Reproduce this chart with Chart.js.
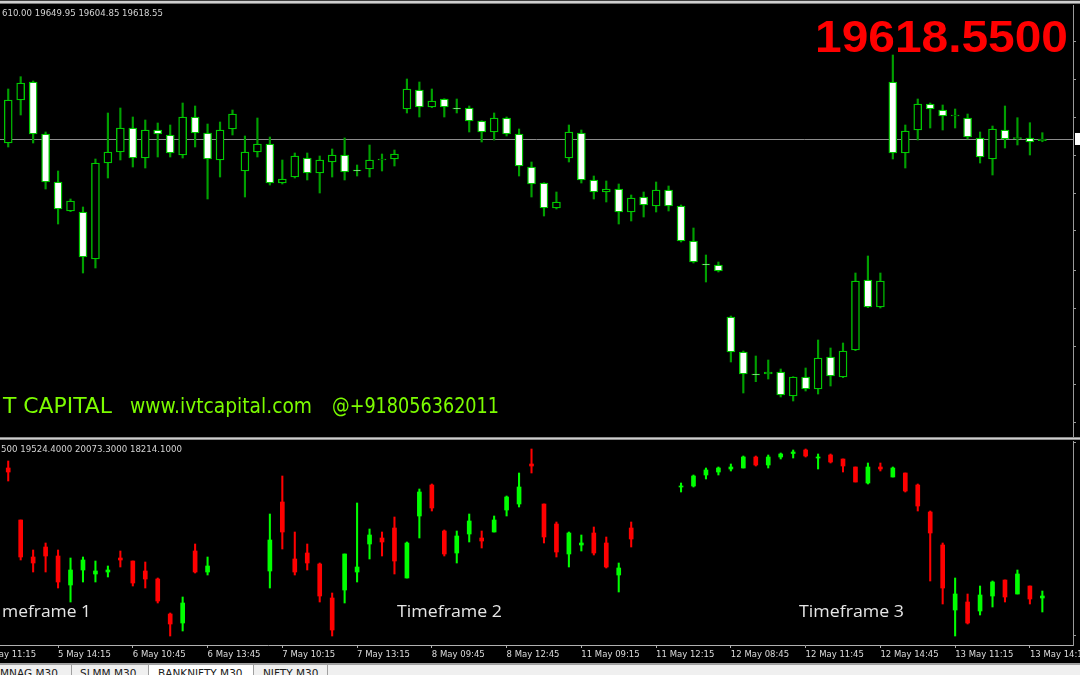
<!DOCTYPE html>
<html>
<head>
<meta charset="utf-8">
<title>BANKNIFTY,M30</title>
<script src="https://cdn.jsdelivr.net/npm/chart.js"></script>
<style>
  html, body { margin: 0; padding: 0; background: #000; width: 1080px; height: 675px; overflow: hidden; position: relative; }
  canvas { position: absolute; left: 0; }
  #top { top: 0; }
  #bottom { top: 440px; }
  .ln { position: absolute; }
  #tabs { position: absolute; left: 0; top: 665px; width: 1080px; height: 10px; background: #f0f0f0; overflow: hidden; }
  #tabs span { position: absolute; top: 2px; font: 10.5px "DejaVu Sans", sans-serif; line-height: 12px; color: #202020; white-space: nowrap; }
  #tabs i { position: absolute; top: 0; width: 1px; height: 10px; background: #a0a0a0; }
</style>
</head>
<body>
<canvas id="top" width="1080" height="437"></canvas>
<canvas id="bottom" width="1080" height="223"></canvas>

<!-- terminal frame lines -->
<div class="ln" style="left:0;top:0;width:1080px;height:1px;background:#404040"></div>
<div class="ln" style="left:0;top:1px;width:1080px;height:2px;background:#cfcfcf"></div>
<div class="ln" style="left:0;top:3px;width:1080px;height:1px;background:#7a7a7a"></div>
<div class="ln" style="left:0;top:437px;width:1080px;height:1px;background:#8c8c8c"></div>
<div class="ln" style="left:0;top:438px;width:1080px;height:1px;background:#cfcfcf"></div>
<div class="ln" style="left:0;top:439px;width:1080px;height:1px;background:#8c8c8c"></div>
<div class="ln" style="left:0;top:663px;width:1080px;height:2px;background:#a0a0a0"></div>

<div id="tabs">
  <span style="left:0">MNAG,M30</span>
  <i style="left:71px"></i>
  <span style="left:80px">SLMM,M30</span>
  <i style="left:148px"></i>
  <div style="position:absolute;left:149px;top:0;width:104px;height:10px;background:#fff"></div>
  <span style="left:158px">BANKNIFTY,M30</span>
  <i style="left:253px"></i>
  <span style="left:263px">NIFTY,M30</span>
  <i style="left:327px"></i>
</div>

<script>

// upper pane: BANKNIFTY M30 candles (bar 0 = 5 May 12:15 ... bar 83 = 13 May 14:45)
const upOpen = [19598.5, 19813.5, 19903.5, 19643.5, 19403.5, 19258.5, 19253.5, 19018.5, 19498.5, 19553.5,
    19673.5, 19523.5, 19663.5, 19638.5, 19538.5, 19728.5, 19648.5, 19513.5, 19668.5, 19458.5,
    19553.5, 19593.5, 19398.5, 19428.5, 19523.5, 19448.5, 19503.5, 19538.5, 19463.5, 19468.5,
    19513.5, 19518.5, 19768.5, 19863.5, 19778.5, 19818.5, 19773.5, 19773.5, 19708.5, 19653.5,
    19723.5, 19643.5, 19478.5, 19398.5, 19273.5, 19523.5, 19648.5, 19413.5, 19353.5, 19368.5,
    19253.5, 19328.5, 19283.5, 19363.5, 19283.5, 19108.5, 18993.5, 18988.5, 18728.5, 18553.5,
    18443.5, 18443.5, 18453.5, 18333.5, 18428.5, 18368.5, 18528.5, 18428.5, 18563.5, 18913.5,
    18778.5, 19903.5, 19548.5, 19663.5, 19793.5, 19763.5, 19733.5, 19723.5, 19623.5, 19518.5,
    19663.5, 19620, 19623.5, 19610];
const upHigh = [19868.5, 19930, 19908.5, 19653.5, 19458.5, 19318.5, 19278.5, 19518.5, 19748.5, 19773.5,
    19728.5, 19713.5, 19698.5, 19688.5, 19798.5, 19783.5, 19693.5, 19703.5, 19763.5, 19633.5,
    19723.5, 19628.5, 19513.5, 19548.5, 19548.5, 19533.5, 19568.5, 19623.5, 19488.5, 19588.5,
    19543.5, 19563.5, 19918.5, 19903.5, 19868.5, 19820, 19818.5, 19783.5, 19710, 19748.5,
    19728.5, 19668.5, 19503.5, 19400, 19353.5, 19688.5, 19663.5, 19433.5, 19408.5, 19393.5,
    19338.5, 19353.5, 19403.5, 19383.5, 19288.5, 19173.5, 19038.5, 19003.5, 18733.5, 18558.5,
    18533.5, 18513.5, 18468.5, 18430, 18473.5, 18613.5, 18573.5, 18598.5, 18948.5, 19033.5,
    18948.5, 20038.5, 19688.5, 19818.5, 19798.5, 19788.5, 19768.5, 19743.5, 19653.5, 19683.5,
    19783.5, 19725, 19700, 19649.95];
const upLow = [19578.5, 19738.5, 19598.5, 19368.5, 19193.5, 19255, 18948.5, 18973.5, 19423.5, 19513.5,
    19478.5, 19473.5, 19528.5, 19528.5, 19523.5, 19578.5, 19318.5, 19428.5, 19638.5, 19328.5,
    19528.5, 19388.5, 19393.5, 19423.5, 19413.5, 19348.5, 19428.5, 19413.5, 19433.5, 19428.5,
    19458.5, 19483.5, 19748.5, 19728.5, 19775, 19728.5, 19748.5, 19653.5, 19603.5, 19613.5,
    19633.5, 19433.5, 19328.5, 19233.5, 19268.5, 19503.5, 19398.5, 19318.5, 19303.5, 19193.5,
    19208.5, 19228.5, 19253.5, 19258.5, 19103.5, 18998.5, 18903.5, 18953.5, 18503.5, 18348.5,
    18405, 18418.5, 18328.5, 18308.5, 18358.5, 18343.5, 18383.5, 18425, 18560, 18775,
    18773.5, 19518.5, 19473.5, 19613.5, 19673.5, 19663.5, 19673.5, 19618.5, 19498.5, 19438.5,
    19573.5, 19588.5, 19538.5, 19604.85];
const upClose = [19813.5, 19898.5, 19643.5, 19403.5, 19268.5, 19308.5, 19028.5, 19498.5, 19553.5, 19673.5,
    19523.5, 19663.5, 19643.5, 19548.5, 19728.5, 19648.5, 19518.5, 19663.5, 19743.5, 19553.5,
    19593.5, 19398.5, 19418.5, 19533.5, 19448.5, 19513.5, 19538.5, 19453.5, 19458.5, 19513.5,
    19518.5, 19543.5, 19868.5, 19778.5, 19808.5, 19778.5, 19768.5, 19708.5, 19653.5, 19723.5,
    19643.5, 19483.5, 19393.5, 19273.5, 19303.5, 19653.5, 19413.5, 19353.5, 19368.5, 19253.5,
    19323.5, 19288.5, 19363.5, 19283.5, 19108.5, 19003.5, 18988.5, 18958.5, 18553.5, 18443.5,
    18438.5, 18453.5, 18338.5, 18428.5, 18368.5, 18523.5, 18433.5, 18558.5, 18908.5, 18778.5,
    18908.5, 19548.5, 19658.5, 19793.5, 19768.5, 19733.5, 19738.5, 19628.5, 19528.5, 19668.5,
    19618.5, 19625, 19603.5, 19618.55];
const upTicks = [20105, 19917, 19728.5, 19538.5, 19348.5, 19160, 18963.5, 18770, 18580, 18393.5, 18203.5];

// lower pane: second timeframe candles on the same bar grid (null = no candle)
const loOpen = [19820, 19300, 18930, 19030, 18940, 18650, 18800, 18760, 18780, 18920,
    18890, 18790, 18710, 18360, 18270, 18990, 18780, null, null, null,
    null, 18790, 19480, 18910, 18970, 18860, 18520, 18600, 18780, 19060,
    19120, 19220, 18720, 19340, 19650, 19190, 18970, 19160, 19120, 19180,
    19400, 19460, 19860, 19460, 19260, 18960, 19050, 19170, 19070, 18750,
    19220, null, null, null, 19630, 19640, 19750, 19780, 19810, 19820,
    19930, 19850, 19930, 19965, 20000, 19920, 19950, 19910, 19830, 19670,
    19830, 19730, 19770, 19650, 19380, 19050, 18400, 18480, 18390, 18540,
    18700, 18560, 18640, 18520];
const loHigh = [19890, 19300, 19000, 19070, 19000, 18920, 18930, 18890, 18840, 18990,
    18890, 18880, 18720, 18370, 18530, 19060, 18930, null, null, null,
    null, 19360, 19740, 19180, 19060, 18870, 18570, 18960, 19470, 19210,
    19180, 19330, 19080, 19610, 19660, 19200, 19190, 19360, 19190, 19340,
    19540, 19770, 20010, 19460, 19280, 19180, 19150, 19230, 19130, 18870,
    19280, null, null, null, 19670, 19750, 19820, 19830, 19860, 19940,
    19940, 19950, 19970, 20000, 20010, 19960, 19960, 19910, 19830, 19870,
    19870, 19830, 19770, 19660, 19390, 19070, 18720, 18560, 18640, 18690,
    18700, 18800, 18640, 18590];
const loLow = [19690, 18900, 18780, 18780, 18620, 18480, 18680, 18680, 18730, 18830,
    18640, 18620, 18470, 18140, 18190, 18770, 18750, null, null, null,
    null, 18620, 19010, 18750, 18800, 18480, 18140, 18470, 18680, 18910,
    18940, 18760, 18720, 19120, 19390, 18940, 18870, 19080, 19020, 19180,
    19340, 19430, 19770, 19070, 18930, 18830, 18990, 18950, 18820, 18580,
    19030, null, null, null, 19580, 19630, 19710, 19750, 19790, 19820,
    19840, 19820, 19910, 19920, 19930, 19810, 19870, 19780, 19680, 19660,
    19790, 19730, 19580, 19390, 18690, 18460, 18140, 18260, 18350, 18430,
    18480, 18560, 18460, 18380];
const loClose = [19780, 18930, 18870, 18940, 18680, 18800, 18900, 18790, 18800, 18900,
    18670, 18710, 18490, 18260, 18470, 18780, 18840, null, null, null,
    null, 19100, 19180, 18780, 18870, 18540, 18200, 18960, 18830, 19150,
    19080, 18890, 19070, 19580, 19420, 18960, 19140, 19290, 19090, 19300,
    19530, 19630, 19840, 19130, 18980, 19170, 19070, 18970, 18830, 18820,
    19110, null, null, null, 19640, 19740, 19800, 19820, 19830, 19930,
    19850, 19930, 19960, 19980, 19940, 19930, 19880, 19840, 19680, 19830,
    19810, 19820, 19590, 19440, 19170, 18620, 18560, 18270, 18550, 18680,
    18530, 18760, 18510, 18540];
const loTicks = [20070, 18150];

// time axis (bar index of each label)
const timeTicks = [-2, 4, 10, 16, 22, 28, 34, 40, 46, 52, 58, 64, 70, 76, 82];
const timeLabels = ["5 May 11:15", "5 May 14:15", "6 May 10:45", "6 May 13:45", "7 May 10:15",
    "7 May 13:15", "8 May 09:45", "8 May 12:45", "11 May 09:15", "11 May 12:15",
    "12 May 08:45", "12 May 11:45", "12 May 14:45", "13 May 11:15", "13 May 14:15"];

const topHeader = "610.00 19649.95 19604.85 19618.55";
const bottomHeader = "500 19524.4000 20073.3000 18214.1000";
const watermark = ["T CAPITAL", "www.ivtcapital.com", "@+918056362011"];
const paneLabels = ["meframe 1", "Timeframe 2", "Timeframe 3"];

const lastPrice = upClose[upClose.length - 1];

function candleData(o, h, l, c) {
    const wicks = [];
    const bodies = [];
    o.forEach((v, i) => {
        if (v === null) return;
        wicks.push({ x: i, y: [l[i], h[i]] });
        bodies.push({ x: i, y: [v, c[i]] });
    });
    return { wicks, bodies };
}

// draw text stretched to a given width
function fitText(ctx, txt, x, y, w, font, color) {
    ctx.save();
    ctx.font = font;
    ctx.fillStyle = color;
    ctx.textBaseline = 'alphabetic';
    const m = ctx.measureText(txt).width;
    ctx.translate(x, y);
    ctx.scale(w / m, 1);
    ctx.fillText(txt, 0, 0);
    ctx.restore();
}

const xRange = { min: -0.66, max: 85.46 };

function yAxis(min, max, ticks) {
    return {
        position: 'right',
        min: min,
        max: max,
        afterFit: s => { s.width = 7; },
        afterBuildTicks: s => { s.ticks = ticks.map(v => ({ value: v })); },
        ticks: { display: false },
        grid: { drawOnChartArea: false, drawTicks: true, tickLength: 3, color: '#9a9a9a' },
        border: { display: true, color: '#9a9a9a' }
    };
}

const topOverlay = {
    id: 'topOverlay',
    beforeDatasetsDraw(chart) {
        const { ctx, chartArea } = chart;
        const y = Math.round(chart.scales.y.getPixelForValue(lastPrice)) + 0.5;
        ctx.save();
        ctx.strokeStyle = '#8c8c8c';
        ctx.lineWidth = 1;
        ctx.beginPath();
        ctx.moveTo(chartArea.left, y);
        ctx.lineTo(chartArea.right, y);
        ctx.stroke();
        ctx.restore();
    },
    afterDraw(chart) {
        const ctx = chart.ctx;
        const y = chart.scales.y.getPixelForValue(lastPrice);
        ctx.save();
        ctx.fillStyle = '#ffffff';
        ctx.fillRect(chart.chartArea.right + 2, y - 6, 8, 12);
        ctx.restore();

        fitText(ctx, topHeader, 2, 16, 161, '8.5px "DejaVu Sans"', '#d4d4d4');
        fitText(ctx, lastPrice.toFixed(4), 815, 52, 253, 'bold 44px "Liberation Sans"', '#ff0000');

        const wmFont = '21px "DejaVu Sans"';
        fitText(ctx, watermark[0], 3, 413, 109, wmFont, '#7cfc00');
        fitText(ctx, watermark[1], 130, 413, 182, wmFont, '#7cfc00');
        fitText(ctx, watermark[2], 332, 413, 167, wmFont, '#7cfc00');
    }
};

const bottomOverlay = {
    id: 'bottomOverlay',
    afterDraw(chart) {
        const ctx = chart.ctx;
        fitText(ctx, bottomHeader, 1, 12, 181, '8.5px "DejaVu Sans"', '#d4d4d4');
        const f = '17px "Open Sans"';
        fitText(ctx, paneLabels[0], 2, 177, 89, f, '#e6e6e6');
        fitText(ctx, paneLabels[1], 397, 177, 105, f, '#e6e6e6');
        fitText(ctx, paneLabels[2], 799, 177, 105, f, '#e6e6e6');
    }
};

function drawTop() {
    const d = candleData(upOpen, upHigh, upLow, upClose);
    return new Chart(document.getElementById('top'), {
        type: 'bar',
        data: {
            datasets: [
                {
                    data: d.bodies,
                    grouped: false,
                    barThickness: 8,
                    backgroundColor: c => (c.raw && c.raw.y[1] >= c.raw.y[0]) ? '#000000' : '#ffffff',
                    borderColor: '#00c800',
                    borderWidth: 1.4,
                    borderSkipped: false
                },
                {
                    data: d.wicks,
                    grouped: false,
                    barThickness: 1.5,
                    backgroundColor: '#00a000'
                }
            ]
        },
        options: {
            responsive: false,
            animation: false,
            layout: { padding: { top: 5, left: 0, right: 0, bottom: 0 } },
            plugins: { legend: { display: false }, tooltip: { enabled: false } },
            scales: {
                x: { type: 'linear', min: xRange.min, max: xRange.max, offset: false, display: false, grid: { offset: false } },
                y: yAxis(18128.5, 20288.5, upTicks)
            }
        },
        plugins: [topOverlay]
    });
}

function drawBottom() {
    const d = candleData(loOpen, loHigh, loLow, loClose);
    const col = c => (c.raw && c.raw.y[1] >= c.raw.y[0]) ? '#00ff00' : '#ff0000';
    const wickCol = c => {
        const i = c.raw ? c.raw.x : 0;
        return loClose[i] >= loOpen[i] ? '#00ff00' : '#ff0000';
    };
    return new Chart(document.getElementById('bottom'), {
        type: 'bar',
        data: {
            datasets: [
                { data: d.bodies, grouped: false, barThickness: 4, backgroundColor: col },
                { data: d.wicks, grouped: false, barThickness: 1.4, backgroundColor: wickCol }
            ]
        },
        options: {
            responsive: false,
            animation: false,
            layout: { padding: { top: 1, left: 0, right: 0, bottom: 0 } },
            plugins: { legend: { display: false }, tooltip: { enabled: false } },
            scales: {
                x: {
                    type: 'linear',
                    min: xRange.min,
                    max: xRange.max,
                    offset: false,
                    afterFit: s => {
                        s.height = 18;
                        // keep the plot the same width as the upper pane
                        s.paddingLeft = 0;
                        s.paddingRight = 0;
                    },
                    afterBuildTicks: s => { s.ticks = timeTicks.map(v => ({ value: v })); },
                    ticks: {
                        callback: v => timeLabels[timeTicks.indexOf(v)],
                        align: 'start',
                        autoSkip: false,
                        maxRotation: 0,
                        padding: 2,
                        color: '#dcdcdc',
                        font: { family: 'DejaVu Sans', size: 8.5 }
                    },
                    grid: { offset: false, drawOnChartArea: false, drawTicks: true, tickLength: 3, color: '#b0b0b0' },
                    border: { display: true, color: '#b0b0b0' }
                },
                y: yAxis(18050, 20090, loTicks)
            }
        },
        plugins: [bottomOverlay]
    });
}

drawTop();
drawBottom();

</script>
</body>
</html>
